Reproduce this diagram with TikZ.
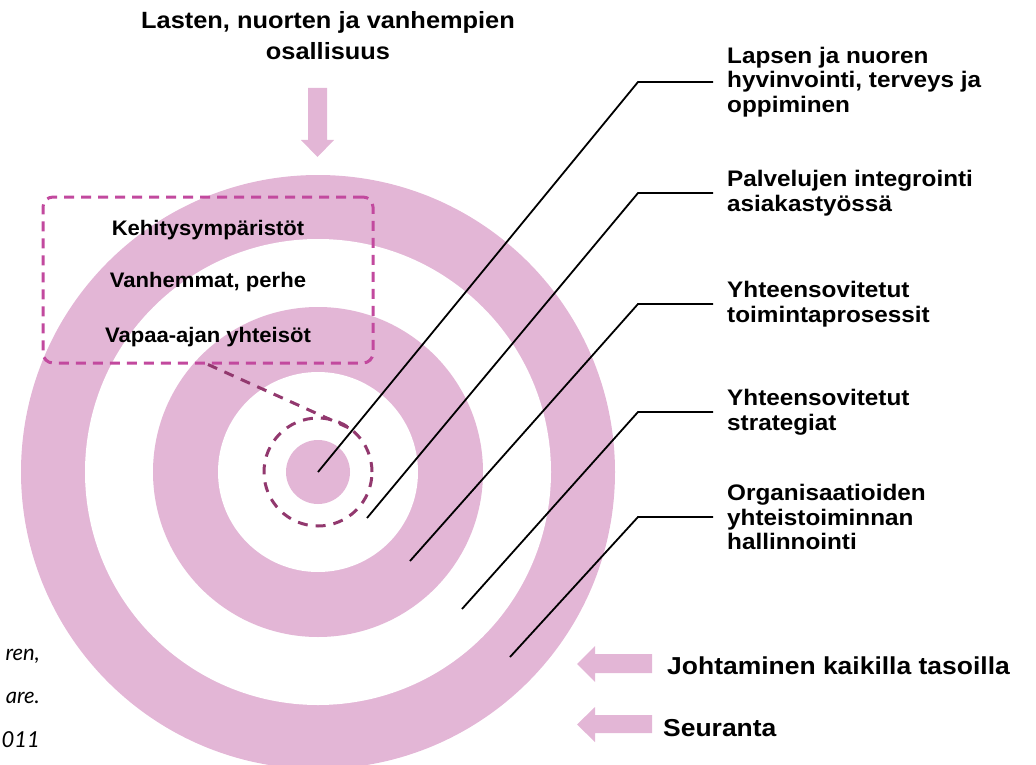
\documentclass[tikz,border=0pt]{standalone}
\usepackage{fontspec}
\setmainfont{Liberation Sans}
\newfontfamily\headfont{Liberation Sans}[FakeStretch=1.08]
\newfontfamily\envfont{Liberation Sans}[FakeStretch=1.05]
\newfontfamily\footfont{Liberation Sans}[FakeStretch=1.08]
\newfontfamily\citefont{Lato}
\definecolor{ringpink}{RGB}{227,182,214}
\definecolor{envmagenta}{RGB}{194,73,158}
\definecolor{focusplum}{RGB}{146,56,110}
\tikzset{
  ring/.style={circle,inner sep=0,draw=none},
  leader/.style={draw,line width=1.8pt},
  level/.style={anchor=west,inner xsep=14pt,inner ysep=0,align=left,
    font=\headfont\bfseries\fontsize{22.5}{24.5}\selectfont},
  envtext/.style={anchor=base,inner sep=0,font=\envfont\bfseries\fontsize{21}{25}\selectfont},
  foot/.style={anchor=base west,inner sep=0,font=\footfont\bfseries\fontsize{24.5}{28}\selectfont},
  cite/.style={anchor=base east,inner sep=0,font=\citefont\itshape\fontsize{22}{28}\selectfont}
}
\begin{document}
\begin{tikzpicture}[x=1pt,y=-1pt]
  \useasboundingbox (0,0) rectangle (1036,765);
  \clip (0,0) rectangle (1036,765);

  % rings
  \node[ring,fill=ringpink,minimum size=594pt] (outer) at (318,472) {};
  \node[ring,fill=white,minimum size=466pt] at (318,472) {};
  \node[ring,fill=ringpink,minimum size=330pt] (middle) at (318,472) {};
  \node[ring,fill=white,minimum size=200pt] at (318,472) {};
  \node[ring,fill=ringpink,minimum size=64pt] (core) at (318,472) {};
  \node[ring,draw=focusplum,line width=3pt,dash pattern=on 10pt off 8pt,
        minimum size=108pt] (focus) at (318,472) {};

  % environments
  \node[draw=envmagenta,line width=3pt,dash pattern=on 10pt off 7pt,rounded corners=10pt,
        minimum width=330pt,minimum height=166pt] (env) at (208,280) {};
  \node[envtext] (kehitys) at (208,235) {Kehitysympäristöt};
  \node[envtext] (vanhemmat) at (208,287) {Vanhemmat, perhe};
  \node[envtext] (vapaa) at (208,342) {Vapaa-ajan yhteisöt};
  \draw[focusplum,line width=3pt,dash pattern=on 10pt off 8pt] (env.south) -- (focus.48);

  % participation
  \node[anchor=north,inner sep=0,align=center,
        font=\headfont\bfseries\fontsize{23.5}{31}\selectfont] (title) at (328,11)
        {Lasten, nuorten ja vanhempien\\osallisuus};
  \fill[ringpink] (308,88) -- (327,88) -- (327,140) -- (334,140) -- (317.5,157)
    -- (301,140) -- (308,140) -- cycle;

  % levels
  \node[level] (lvl1) at (713,82) {Lapsen ja nuoren\\hyvinvointi, terveys ja\\oppiminen};
  \node[level] (lvl2) at (713,193) {Palvelujen integrointi\\asiakastyössä};
  \node[level] (lvl3) at (713,304) {Yhteensovitetut\\toimintaprosessit};
  \node[level] (lvl4) at (713,412) {Yhteensovitetut\\strategiat};
  \node[level] (lvl5) at (713,517) {Organisaatioiden\\yhteistoiminnan\\hallinnointi};
  \coordinate (p2) at (367,518);
  \coordinate (p3) at (410,561);
  \coordinate (p4) at (462,609);
  \coordinate (p5) at (510,657);
  \draw[leader] (core.center) -- ([xshift=-75pt]lvl1.west) -- (lvl1.west);
  \draw[leader] (p2) -- ([xshift=-75pt]lvl2.west) -- (lvl2.west);
  \draw[leader] (p3) -- ([xshift=-75pt]lvl3.west) -- (lvl3.west);
  \draw[leader] (p4) -- ([xshift=-75pt]lvl4.west) -- (lvl4.west);
  \draw[leader] (p5) -- ([xshift=-75pt]lvl5.west) -- (lvl5.west);

  % leadership and follow-up
  \fill[ringpink] (652,654) -- (595,654) -- (595,646) -- (577,664) -- (595,682)
    -- (595,673) -- (652,673) -- cycle;
  \fill[ringpink] (652,715) -- (595,715) -- (595,707) -- (577,724.5) -- (595,742)
    -- (595,733) -- (652,733) -- cycle;
  \node[foot] (johto) at (667,674) {Johtaminen kaikilla tasoilla};
  \node[foot] (seuranta) at (663,736) {Seuranta};

  % source
  \node[cite] (cite1) at (40,660) {ren,};
  \node[cite] (cite2) at (40,703) {are.};
  \node[cite] (cite3) at (40,747) {011};
\end{tikzpicture}
\end{document}
